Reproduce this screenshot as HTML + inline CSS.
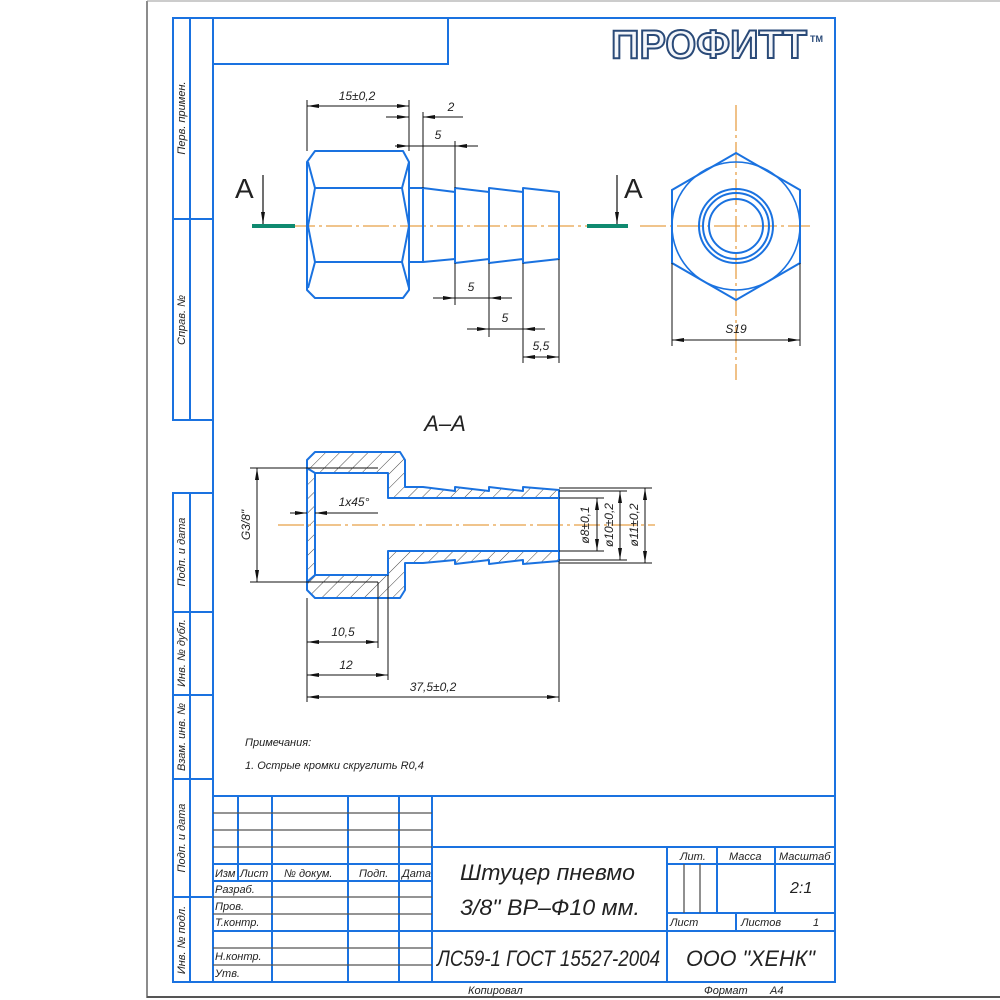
<!DOCTYPE html>
<html><head><meta charset="utf-8"><style>
html,body{margin:0;padding:0;background:#fff;}
svg{display:block;}
text{font-family:"Liberation Sans","DejaVu Sans",sans-serif;font-style:italic;fill:#222;}
text.logo{font-style:normal;}
</style></head><body>
<svg width="1000" height="1000" viewBox="0 0 1000 1000" xmlns="http://www.w3.org/2000/svg">
<defs>
<marker id="ar" viewBox="0 0 12 6" refX="12" refY="3" markerWidth="12" markerHeight="6" markerUnits="userSpaceOnUse" orient="auto"><path d="M0,1 L12,3 L0,5 Z" fill="#111"/></marker>
<marker id="as" viewBox="0 0 12 6" refX="0" refY="3" markerWidth="12" markerHeight="6" markerUnits="userSpaceOnUse" orient="auto"><path d="M12,1 L0,3 L12,5 Z" fill="#111"/></marker>
<pattern id="hatch" patternUnits="userSpaceOnUse" width="10" height="10" patternTransform="rotate(45)"><line x1="0" y1="0" x2="0" y2="10" stroke="#333" stroke-width="0.9"/></pattern>
</defs>
<rect width="1000" height="1000" fill="#fff"/>
<line x1="147" y1="1" x2="147" y2="998" stroke="#666" stroke-width="1.5"/>
<line x1="147" y1="1" x2="1000" y2="1" stroke="#999" stroke-width="1"/>
<line x1="147" y1="997" x2="1000" y2="997" stroke="#555" stroke-width="2"/>

<g stroke="#1a72e0" stroke-width="2" fill="none">
<rect x="213" y="18" width="622" height="964"/>
<rect x="213" y="18" width="235" height="46"/>
<rect x="173" y="18" width="40" height="402"/>
<line x1="190" y1="18" x2="190" y2="420"/>
<line x1="173" y1="219" x2="213" y2="219"/>
<rect x="173" y="493" width="40" height="489"/>
<line x1="190" y1="493" x2="190" y2="982"/>
<line x1="173" y1="612" x2="213" y2="612"/>
<line x1="173" y1="695" x2="213" y2="695"/>
<line x1="173" y1="779" x2="213" y2="779"/>
<line x1="173" y1="897" x2="213" y2="897"/>
<line x1="213" y1="796" x2="835" y2="796"/>
<line x1="432" y1="796" x2="432" y2="982"/>
<line x1="238" y1="796" x2="238" y2="881"/>
<line x1="272" y1="796" x2="272" y2="982"/>
<line x1="348" y1="796" x2="348" y2="982"/>
<line x1="399" y1="796" x2="399" y2="982"/>
<line x1="213" y1="864" x2="432" y2="864"/>
<line x1="213" y1="881" x2="432" y2="881"/>
<line x1="213" y1="931" x2="432" y2="931"/>
<line x1="432" y1="847" x2="835" y2="847"/>
<line x1="432" y1="931" x2="835" y2="931"/>
<line x1="667" y1="847" x2="667" y2="982"/>
<line x1="667" y1="864" x2="835" y2="864"/>
<line x1="667" y1="913" x2="835" y2="913"/>
<line x1="717" y1="847" x2="717" y2="913"/>
<line x1="775" y1="847" x2="775" y2="913"/>
<line x1="736" y1="913" x2="736" y2="931"/>
</g>
<g stroke="#555" stroke-width="1.3">
<line x1="213" y1="813" x2="432" y2="813"/>
<line x1="213" y1="830" x2="432" y2="830"/>
<line x1="213" y1="847" x2="432" y2="847"/>
<line x1="213" y1="897" x2="432" y2="897"/>
<line x1="213" y1="914" x2="432" y2="914"/>
<line x1="213" y1="948" x2="432" y2="948"/>
<line x1="213" y1="965" x2="432" y2="965"/>
<line x1="684" y1="864" x2="684" y2="913"/>
<line x1="700" y1="864" x2="700" y2="913"/>
</g>

<g font-size="11">
<text transform="translate(185,118) rotate(-90)" text-anchor="middle">Перв. примен.</text>
<text transform="translate(185,320) rotate(-90)" text-anchor="middle">Справ. №</text>
<text transform="translate(185,552) rotate(-90)" text-anchor="middle">Подп. и дата</text>
<text transform="translate(185,653) rotate(-90)" text-anchor="middle">Инв. № дубл.</text>
<text transform="translate(185,737) rotate(-90)" text-anchor="middle">Взам. инв. №</text>
<text transform="translate(185,838) rotate(-90)" text-anchor="middle">Подп. и дата</text>
<text transform="translate(185,940) rotate(-90)" text-anchor="middle">Инв. № подл.</text>
</g>

<g font-size="11">
<text x="215" y="877">Изм</text><text x="240" y="877">Лист</text>
<text x="284" y="877">№ докум.</text><text x="359" y="877">Подп.</text><text x="402" y="877">Дата</text>
<text x="215" y="893">Разраб.</text>
<text x="215" y="910">Пров.</text>
<text x="215" y="926">Т.контр.</text>
<text x="215" y="960">Н.контр.</text>
<text x="215" y="977">Утв.</text>
<text x="680" y="860">Лит.</text><text x="729" y="860">Масса</text><text x="779" y="860">Масштаб</text>
<text x="670" y="926">Лист</text><text x="741" y="926">Листов</text><text x="813" y="926">1</text>
<text x="468" y="994">Копировал</text>
<text x="704" y="994">Формат</text><text x="770" y="994">А4</text>
</g>
<text x="790" y="893" font-size="16">2:1</text>
<text x="460" y="880" font-size="22" textLength="175" lengthAdjust="spacingAndGlyphs">Штуцер пневмо</text>
<text x="460" y="915" font-size="22" textLength="180" lengthAdjust="spacingAndGlyphs">3/8" ВР–Ф10 мм.</text>
<text x="437" y="966" font-size="22" textLength="223" lengthAdjust="spacingAndGlyphs">ЛС59-1 ГОСТ 15527-2004</text>
<text x="686" y="966" font-size="22" textLength="129" lengthAdjust="spacingAndGlyphs">ООО "ХЕНК"</text>

<text class="logo" x="611" y="58" font-size="40" font-weight="bold" textLength="196" lengthAdjust="spacingAndGlyphs" style="fill:#f4f6fa;stroke:#2a4a78;stroke-width:2;font-style:normal">ПРОФИТТ</text>
<text class="logo" x="810" y="42" font-size="9" font-weight="bold" style="fill:#2a4a78;font-style:normal">TM</text>

<!-- top view -->
<line x1="252" y1="226" x2="628" y2="226" stroke="#e8a048" stroke-width="1.3" stroke-dasharray="26,4,3,4"/>
<g stroke="#0f8a70" stroke-width="4"><line x1="252" y1="226" x2="295" y2="226"/><line x1="587" y1="226" x2="628" y2="226"/></g>
<g stroke="#111" stroke-width="1.2">
<line x1="263" y1="175" x2="263" y2="224" marker-end="url(#ar)"/>
<line x1="617" y1="175" x2="617" y2="224" marker-end="url(#ar)"/>
</g>
<text class="logo" x="235" y="198" font-size="28" style="font-style:normal">A</text>
<text class="logo" x="624" y="198" font-size="28" style="font-style:normal">A</text>

<g stroke="#1a72e0" stroke-width="2" fill="none" stroke-linejoin="round">
<path d="M315,151 L403,151 L409,162 L409,290 L403,298 L315,298 L307,290 L307,162 Z"/>
<path d="M308,162 L315,188 L308,226 L315,262 L308,288"/>
<path d="M409,162 L402,188 L409,226 L402,262 L409,288"/>
<line x1="315" y1="188" x2="402" y2="188"/><line x1="315" y1="262" x2="402" y2="262"/>
<path d="M409,188 L423,188 L455,192 L455,188 L489,192 L489,188 L523,192 L523,188 L559,192 L559,259 L523,263 L523,259 L489,263 L489,259 L455,263 L455,259 L423,262 L409,262"/>
<line x1="423" y1="188" x2="423" y2="262"/>
<line x1="455" y1="188" x2="455" y2="263"/>
<line x1="489" y1="188" x2="489" y2="263"/>
<line x1="523" y1="188" x2="523" y2="263"/>
</g>
<g stroke="#111" stroke-width="1" fill="none">
<line x1="307" y1="100" x2="307" y2="151"/><line x1="409" y1="100" x2="409" y2="151"/>
<line x1="307" y1="106" x2="409" y2="106" marker-start="url(#as)" marker-end="url(#ar)"/>
<line x1="423" y1="112" x2="423" y2="188"/>
<line x1="386" y1="117" x2="409" y2="117" marker-end="url(#ar)"/>
<line x1="463" y1="117" x2="423" y2="117" marker-end="url(#ar)"/>
<line x1="455" y1="141" x2="455" y2="188"/>
<line x1="400" y1="146" x2="478" y2="146"/>
<line x1="395" y1="146" x2="409" y2="146" marker-end="url(#ar)"/>
<line x1="470" y1="146" x2="455" y2="146" marker-end="url(#ar)"/>
<line x1="455" y1="263" x2="455" y2="305"/><line x1="489" y1="263" x2="489" y2="337"/>
<line x1="433" y1="298" x2="512" y2="298"/>
<line x1="440" y1="298" x2="455" y2="298" marker-end="url(#ar)"/>
<line x1="505" y1="298" x2="489" y2="298" marker-end="url(#ar)"/>
<line x1="523" y1="263" x2="523" y2="363"/><line x1="559" y1="259" x2="559" y2="363"/>
<line x1="467" y1="329" x2="545" y2="329"/>
<line x1="474" y1="329" x2="489" y2="329" marker-end="url(#ar)"/>
<line x1="538" y1="329" x2="523" y2="329" marker-end="url(#ar)"/>
<line x1="523" y1="357" x2="559" y2="357" marker-start="url(#as)" marker-end="url(#ar)"/>
</g>
<g font-size="12">
<text x="357" y="100" text-anchor="middle">15±0,2</text>
<text x="451" y="111" text-anchor="middle">2</text>
<text x="438" y="139" text-anchor="middle">5</text>
<text x="471" y="291" text-anchor="middle">5</text>
<text x="505" y="322" text-anchor="middle">5</text>
<text x="541" y="350" text-anchor="middle">5,5</text>
</g>

<g stroke="#e8a048" stroke-width="1.3" stroke-dasharray="26,4,3,4">
<line x1="736" y1="105" x2="736" y2="380"/><line x1="640" y1="226" x2="810" y2="226"/>
</g>
<g stroke="#1a72e0" stroke-width="2" fill="none">
<polygon points="736,153 800,190 800,263 736,300 672,263 672,190"/>
<circle cx="736" cy="226" r="64" stroke-width="1.6"/>
<circle cx="736" cy="226" r="37"/><circle cx="736" cy="226" r="33"/><circle cx="736" cy="226" r="27"/>
</g>
<g stroke="#111" stroke-width="1">
<line x1="672" y1="263" x2="672" y2="346"/><line x1="800" y1="263" x2="800" y2="346"/>
<line x1="672" y1="340" x2="800" y2="340" marker-start="url(#as)" marker-end="url(#ar)"/>
</g>
<text x="736" y="333" font-size="12" text-anchor="middle">S19</text>

<!-- section -->
<text x="445" y="431" font-size="22" text-anchor="middle">А–А</text>
<path d="M315,452 L400,452 L405,460 L405,487 L423,487 L455,491 L455,487 L489,491 L489,487 L523,491 L523,487 L559,490 L559,561 L523,564 L523,560 L489,564 L489,560 L455,564 L455,560 L423,563 L405,563 L405,590 L400,598 L315,598 L307,590 L307,460 Z" fill="url(#hatch)"/>
<rect x="315" y="473" width="73" height="102" fill="#fff"/>
<rect x="388" y="498" width="171" height="53" fill="#fff"/>
<line x1="278" y1="525" x2="655" y2="525" stroke="#e8a048" stroke-width="1.3" stroke-dasharray="26,4,3,4"/>
<g stroke="#1a72e0" stroke-width="2" fill="none" stroke-linejoin="round">
<path d="M315,452 L400,452 L405,460 L405,487 L423,487 L455,491 L455,487 L489,491 L489,487 L523,491 L523,487 L559,490 L559,561 L523,564 L523,560 L489,564 L489,560 L455,564 L455,560 L423,563 L405,563 L405,590 L400,598 L315,598 L307,590 L307,460 Z"/>
<path d="M307,468 L315,473 L388,473 L388,498 L559,498"/>
<path d="M307,582 L315,575 L388,575 L388,551 L559,551"/>
<line x1="315" y1="473" x2="315" y2="575"/>
</g>
<g stroke="#111" stroke-width="1" fill="none">
<line x1="250" y1="468" x2="378" y2="468"/><line x1="250" y1="582" x2="378" y2="582"/>
<line x1="257" y1="468" x2="257" y2="582" marker-start="url(#as)" marker-end="url(#ar)"/>
<line x1="290" y1="513" x2="307" y2="513" marker-end="url(#ar)"/>
<line x1="330" y1="513" x2="315" y2="513" marker-end="url(#ar)"/>
<line x1="315" y1="513" x2="378" y2="513"/>
<line x1="559" y1="488" x2="652" y2="488"/><line x1="559" y1="563" x2="652" y2="563"/>
<line x1="559" y1="491" x2="627" y2="491"/><line x1="559" y1="560" x2="627" y2="560"/>
<line x1="559" y1="498" x2="604" y2="498"/><line x1="559" y1="551" x2="604" y2="551"/>
<line x1="597" y1="498" x2="597" y2="551" marker-start="url(#as)" marker-end="url(#ar)"/>
<line x1="620" y1="491" x2="620" y2="560" marker-start="url(#as)" marker-end="url(#ar)"/>
<line x1="645" y1="488" x2="645" y2="563" marker-start="url(#as)" marker-end="url(#ar)"/>
<line x1="307" y1="598" x2="307" y2="702"/>
<line x1="378" y1="582" x2="378" y2="648"/>
<line x1="388" y1="575" x2="388" y2="680"/>
<line x1="559" y1="561" x2="559" y2="702"/>
<line x1="307" y1="642" x2="378" y2="642" marker-start="url(#as)" marker-end="url(#ar)"/>
<line x1="307" y1="675" x2="388" y2="675" marker-start="url(#as)" marker-end="url(#ar)"/>
<line x1="307" y1="697" x2="559" y2="697" marker-start="url(#as)" marker-end="url(#ar)"/>
</g>
<g font-size="12">
<text transform="translate(250,525) rotate(-90)" text-anchor="middle">G3/8"</text>
<text x="354" y="506" text-anchor="middle">1x45°</text>
<text transform="translate(589,525) rotate(-90)" text-anchor="middle">ø8±0,1</text>
<text transform="translate(613,525) rotate(-90)" text-anchor="middle">ø10±0,2</text>
<text transform="translate(638,525) rotate(-90)" text-anchor="middle">ø11±0,2</text>
<text x="343" y="636" text-anchor="middle">10,5</text>
<text x="346" y="669" text-anchor="middle">12</text>
<text x="433" y="691" text-anchor="middle">37,5±0,2</text>
</g>
<text x="245" y="746" font-size="11">Примечания:</text>
<text x="245" y="769" font-size="11">1. Острые кромки скруглить R0,4</text>
</svg>
</body></html>
